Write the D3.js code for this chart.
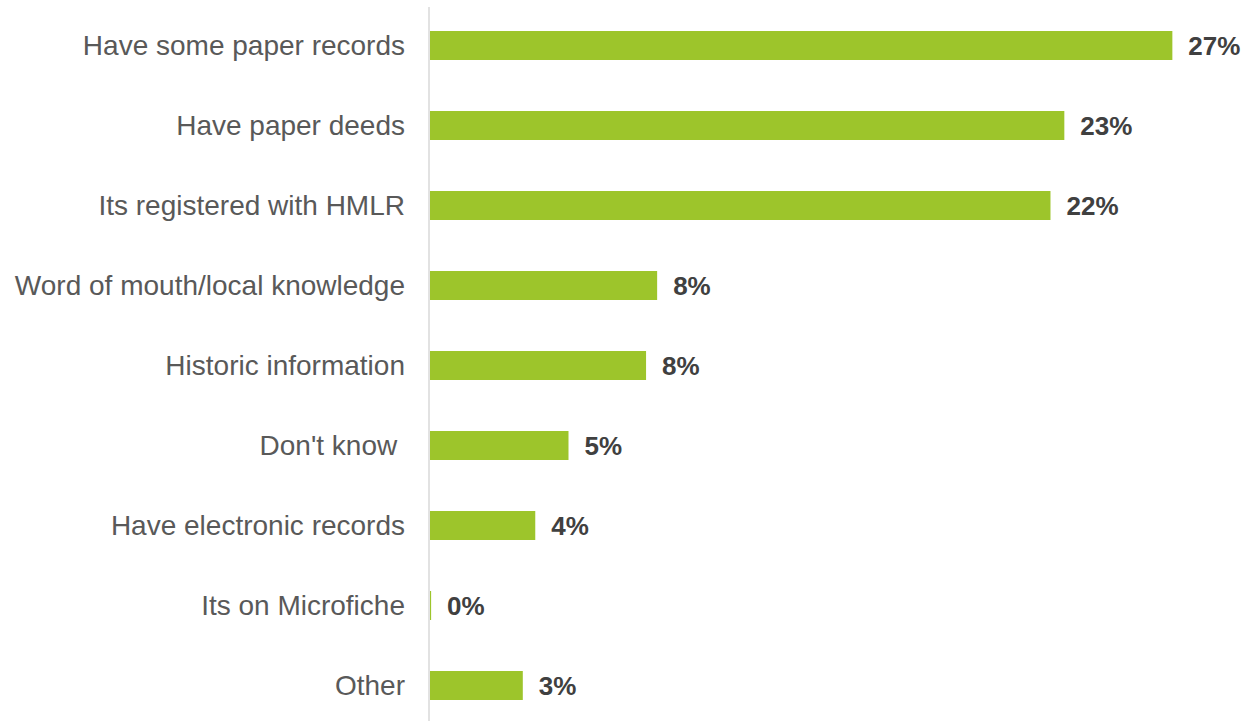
<!DOCTYPE html>
<html>
<head>
<meta charset="utf-8">
<script src="https://cdn.jsdelivr.net/npm/d3@7"></script>
<style>
  html, body { margin: 0; padding: 0; background: #ffffff; }
  svg { display: block; font-family: "Liberation Sans", Arial, sans-serif; }
</style>
</head>
<body>
<svg id="chart" width="1243" height="721"></svg>
<script>
// How people know where their records are held (% of respondents)
const categories = [
  "Have some paper records",
  "Have paper deeds",
  "Its registered with HMLR",
  "Word of mouth/local knowledge",
  "Historic information",
  "Don't know ",
  "Have electronic records",
  "Its on Microfiche",
  "Other"
];
const shares = [26.8, 22.9, 22.4, 8.2, 7.8, 5.0, 3.8, 0.04, 3.35];

const svg = d3.select("#chart");

const x = d3.scaleLinear().domain([0, 30]).range([430, 430 + 30 * 27.7]);
const y = d3.scaleBand()
  .domain(categories)
  .range([5.5, 725.5])
  .paddingInner(0.6375)
  .paddingOuter(0.31875);

const rows = categories.map((c, i) => ({ cat: c, v: shares[i] }));

// category axis line
svg.append("line")
  .attr("x1", 429).attr("x2", 429)
  .attr("y1", 7).attr("y2", 721)
  .attr("stroke", "#d9d9d9")
  .attr("stroke-width", 1.5);

// bars
svg.append("g").selectAll("rect")
  .data(rows)
  .join("rect")
  .attr("x", x(0))
  .attr("y", d => y(d.cat))
  .attr("width", d => Math.max(1, x(d.v) - x(0)))
  .attr("height", y.bandwidth())
  .attr("fill", "#9dc52b");

// category labels
svg.append("g").selectAll("text")
  .data(rows)
  .join("text")
  .attr("x", 405)
  .attr("y", d => y(d.cat) + y.bandwidth() / 2)
  .attr("dy", "0.35em")
  .attr("text-anchor", "end")
  .style("white-space", "pre")
  .attr("font-size", 28)
  .attr("fill", "#595959")
  .text(d => d.cat);

// value labels
const fmt = v => Math.round(v) + "%";
svg.append("g").selectAll("text")
  .data(rows)
  .join("text")
  .attr("x", d => Math.max(x(d.v), x(0) + 1) + 16)
  .attr("y", d => y(d.cat) + y.bandwidth() / 2)
  .attr("dy", "0.35em")
  .attr("font-size", 26)
  .attr("font-weight", "bold")
  .attr("fill", "#404040")
  .text(d => fmt(d.v));
</script>
</body>
</html>
